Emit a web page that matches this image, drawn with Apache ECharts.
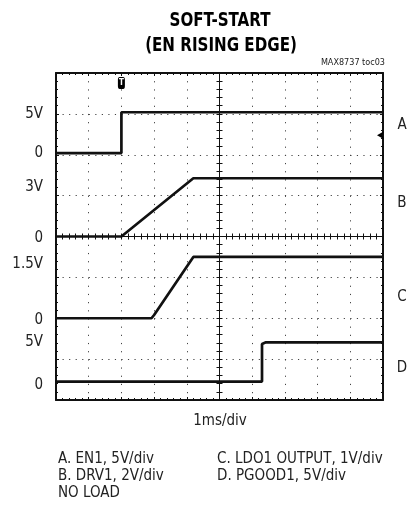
<!DOCTYPE html>
<html>
<head>
<meta charset="utf-8">
<script src="https://cdn.jsdelivr.net/npm/echarts@6/dist/echarts.min.js"></script>
<style>
html,body{margin:0;padding:0;background:#fff;}
#chart{width:411px;height:512px;}
</style>
</head>
<body>
<div id="chart"></div>
<script>
// ---- data (time in ms, voltage in V) ----
const enTime  = [0, 2.0, 2.0, 10];
const enVolt  = [0, 0, 5, 5];
const drvTime = [0, 2.0, 4.2, 10];
const drvVolt = [0, 0, 2.85, 2.85];
const ldoTime = [0, 2.92, 3.0, 4.2, 10];
const ldoVolt = [0, 0, 0.08, 1.5, 1.5];
const pgTime  = [0, 6.3, 6.3, 6.42, 10];
const pgVolt  = [0, 0, 4.6, 4.8, 4.8];
const trigTime = [2.0];
const trigLevel = [2.2];

const leftLabels  = ['5V', '0', '3V', '0', '1.5V', '0', '5V', '0'];
const traceNames  = ['A', 'B', 'C', 'D'];
const titleLines  = ['SOFT-START', '(EN RISING EDGE)'];
const figId       = 'MAX8737 toc03';
const xUnit       = '1ms/div';
const legendLeft  = ['A. EN1, 5V/div', 'B. DRV1, 2V/div', 'NO LOAD'];
const legendRight = ['C. LDO1 OUTPUT, 1V/div', 'D. PGOOD1, 5V/div'];

const zip = (t, v) => t.map((x, i) => [x, v[i]]);

const FONT = '"Liberation Sans Narrow", "DejaVu Sans Condensed", "Liberation Sans", sans-serif';
const INK = '#111';
const TXT = '#222';

const chart = echarts.init(document.getElementById('chart'), null, {renderer: 'canvas'});

const frameAxisX = (pos) => ({
  type: 'value', min: 0, max: 10, interval: 1, position: pos, gridIndex: 0,
  axisLine: {show: true, onZero: false, lineStyle: {color: INK, width: 2}},
  axisTick: {show: true, inside: true, length: 3, lineStyle: {color: INK}},
  minorTick: {show: true, splitNumber: 5, length: 2, lineStyle: {color: INK}},
  axisLabel: {show: false}, splitLine: {show: false}
});
const frameAxisY = (pos) => ({
  type: 'value', min: 0, max: 8, interval: 1, position: pos, gridIndex: 0,
  axisLine: {show: true, onZero: false, lineStyle: {color: INK, width: 2}},
  axisTick: {show: true, inside: true, length: 3, lineStyle: {color: INK}},
  minorTick: {show: true, splitNumber: 5, length: 2, lineStyle: {color: INK}},
  axisLabel: {show: false}, splitLine: {show: false}
});
const centerAxisX = (pos, showLine) => ({
  type: 'value', min: 0, max: 10, interval: 1, position: pos,
  axisLine: {show: showLine, onZero: true, onZeroAxisIndex: 5, lineStyle: {color: INK, width: 1.2}},
  axisTick: {show: true, inside: true, length: 3, lineStyle: {color: INK}},
  minorTick: {show: true, splitNumber: 5, length: 3, lineStyle: {color: INK}},
  axisLabel: {show: false}, splitLine: {show: false}
});
const centerAxisY = (pos, showLine) => ({
  type: 'value', min: 0, max: 8, interval: 1, position: pos,
  axisLine: {show: showLine, onZero: true, onZeroAxisIndex: 4, lineStyle: {color: INK, width: 1}},
  axisTick: {show: true, inside: true, length: 3, lineStyle: {color: INK}},
  minorTick: {show: true, splitNumber: 5, length: 3, lineStyle: {color: INK}},
  axisLabel: {show: false}, splitLine: {show: false}
});
const hiddenY = (mn, mx) => ({type: 'value', min: mn, max: mx, show: false, axisLine: {onZero: false}});

const traceStyle = {color: INK, width: 2.7};
const mkLine = (name, yIdx, data, extra) => Object.assign({
  name, type: 'line', xAxisIndex: 0, yAxisIndex: yIdx, data,
  showSymbol: false, symbol: 'none', lineStyle: traceStyle, itemStyle: {color: INK},
  animation: false, z: 5
}, extra || {});

// graphic text elements
const g = [];
g.push({type: 'text', x: 220, y: 21, scaleX: 0.84, style: {text: titleLines[0], font: 'bold 20px ' + FONT, fill: '#000', textAlign: 'center', textVerticalAlign: 'middle'}});
g.push({type: 'text', x: 221, y: 46, scaleX: 0.84, style: {text: titleLines[1], font: 'bold 20px ' + FONT, fill: '#000', textAlign: 'center', textVerticalAlign: 'middle'}});
g.push({type: 'text', x: 385, y: 63, style: {text: figId, font: '9px ' + FONT, fill: TXT, textAlign: 'right', textVerticalAlign: 'middle'}});
const leftY = [114, 153, 187, 238, 264, 320, 342, 385];
leftLabels.forEach((t, i) => g.push({type: 'text', x: 43, y: leftY[i], style: {text: t, font: '15px ' + FONT, fill: TXT, textAlign: 'right', textVerticalAlign: 'middle'}}));
const rightY = [125, 203, 297, 368];
traceNames.forEach((t, i) => g.push({type: 'text', x: 402, y: rightY[i], style: {text: t, font: '15px ' + FONT, fill: TXT, textAlign: 'center', textVerticalAlign: 'middle'}}));
g.push({type: 'text', x: 220, y: 421, style: {text: xUnit, font: '15px ' + FONT, fill: TXT, textAlign: 'center', textVerticalAlign: 'middle'}});
const legY = [459, 476, 493];
legendLeft.forEach((t, i) => g.push({type: 'text', x: 58, y: legY[i], style: {text: t, font: '15px ' + FONT, fill: TXT, textAlign: 'left', textVerticalAlign: 'middle'}}));
legendRight.forEach((t, i) => g.push({type: 'text', x: 217, y: legY[i], style: {text: t, font: '15px ' + FONT, fill: TXT, textAlign: 'left', textVerticalAlign: 'middle'}}));

const option = {
  backgroundColor: '#fff',
  animation: false,
  grid: {left: 56, top: 73, width: 327, height: 327, show: false},
  xAxis: [
    Object.assign(frameAxisX('bottom'), {
      splitLine: {show: true, lineStyle: {color: '#444', width: 1, type: [1.2, 6.98]}}
    }),
    frameAxisX('top'),
    centerAxisX('bottom', true),
    centerAxisX('top', false),
    {type: 'value', min: -5, max: 5, show: false, axisLine: {onZero: false}}
  ],
  yAxis: [
    Object.assign(frameAxisY('left'), {
      splitLine: {show: true, lineStyle: {color: '#444', width: 1, type: [1.2, 5.34]}}
    }),
    frameAxisY('right'),
    centerAxisY('left', true),
    centerAxisY('right', false),
    hiddenY(-30.2, 9.8),   // A: 5V/div
    hiddenY(-8, 8),        // B: 2V/div
    hiddenY(-2, 6),        // C: 1V/div
    hiddenY(-2.25, 37.75)  // D: 5V/div
  ],
  series: [
    mkLine('A', 4, zip(enTime, enVolt), {
      markPoint: {
        animation: false,
        data: [
          {coord: [trigTime[0], 9.8], symbol: 'roundRect', symbolSize: [7, 12], symbolOffset: [0, 10],
           itemStyle: {color: '#000'}, label: {show: true, formatter: 'T', color: '#fff', fontSize: 8, fontWeight: 'bold', fontFamily: FONT}},
          {coord: [10, trigLevel[0]], symbol: 'arrow', symbolSize: [6, 7], symbolRotate: 90, symbolOffset: [-6, 0],
           itemStyle: {color: '#000'}, label: {show: false}}
        ]
      }
    }),
    mkLine('B', 5, zip(drvTime, drvVolt)),
    mkLine('C', 6, zip(ldoTime, ldoVolt)),
    mkLine('D', 7, zip(pgTime, pgVolt))
  ],
  graphic: g
};
chart.setOption(option);
</script>
</body>
</html>
